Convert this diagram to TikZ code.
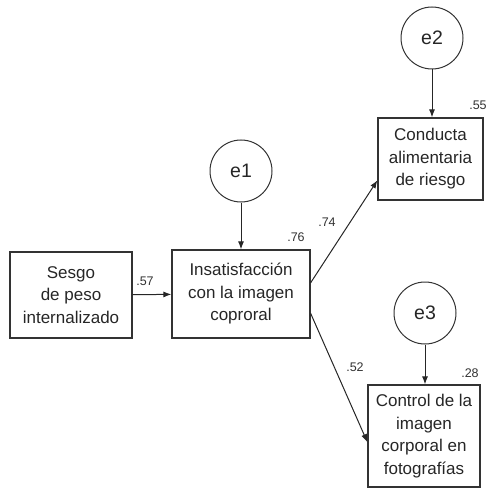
\documentclass[tikz,border=0pt]{standalone}
\usepackage{fontspec}
\setmainfont{Liberation Sans}
\usetikzlibrary{calc,arrows.meta}
\begin{document}
\begin{tikzpicture}[x=1pt,y=-1pt,
  box/.style={draw=black!80,line width=1.2pt,rectangle,align=center,inner sep=0pt,
    font=\fontsize{17}{22.5}\selectfont,text=black!85},
  err/.style={draw=black!80,line width=1pt,circle,minimum size=62pt,inner sep=0pt,
    font=\fontsize{19.5}{22}\selectfont,text=black!85},
  arr/.style={draw=black!85,line width=1pt,-{Latex[length=8pt,width=6pt]}},
  coef/.style={font=\fontsize{12.5}{14}\selectfont,text=black!80,inner sep=0pt}]
\useasboundingbox (0,0) rectangle (488,489);
\node[box,minimum width=122pt,minimum height=86pt] (sesgo) at (71,295) {Sesgo\\de peso\\internalizado};
\node[box,minimum width=138pt,minimum height=88pt] (insat) at (241,294) {Insatisfacción\\con la imagen\\coproral};
\node[box,minimum width=105pt,minimum height=82pt] (cond) at (430.5,159) {Conducta\\alimentaria\\de riesgo};
\node[box,minimum width=112pt,minimum height=102pt] (ctrl) at (424,436) {Control de la\\imagen\\corporal en\\fotografías};
\node[err] (e1) at (241,171) {e1};
\node[err] (e2) at (432,38) {e2};
\node[err] (e3) at (425,313) {e3};
\draw[arr] (sesgo) -- (insat);
\draw[arr] (e1) -- (insat);
\draw[arr] (e2.south) -- (cond.north -| e2.south);
\draw[arr] (e3.south) -- (ctrl.north -| e3.south);
\coordinate (a1) at ($(insat.north east)!0.375!(insat.south east)$);
\coordinate (b1) at ($(cond.north west)!0.756!(cond.south west)$);
\coordinate (a2) at ($(insat.north east)!0.716!(insat.south east)$);
\coordinate (b2) at ($(ctrl.north west)!0.56!(ctrl.south west)$);
\draw[arr] (a1) -- (b1);
\draw[arr] (a2) -- (b2);
\node[coef] (c57) at (145,281) {.57};
\node[coef] (c76) at (296,237) {.76};
\node[coef] (c74) at (327,222) {.74};
\node[coef] (c55) at (478,105) {.55};
\node[coef] (c52) at (355,367) {.52};
\node[coef] (c28) at (470,373) {.28};
\end{tikzpicture}
\end{document}
